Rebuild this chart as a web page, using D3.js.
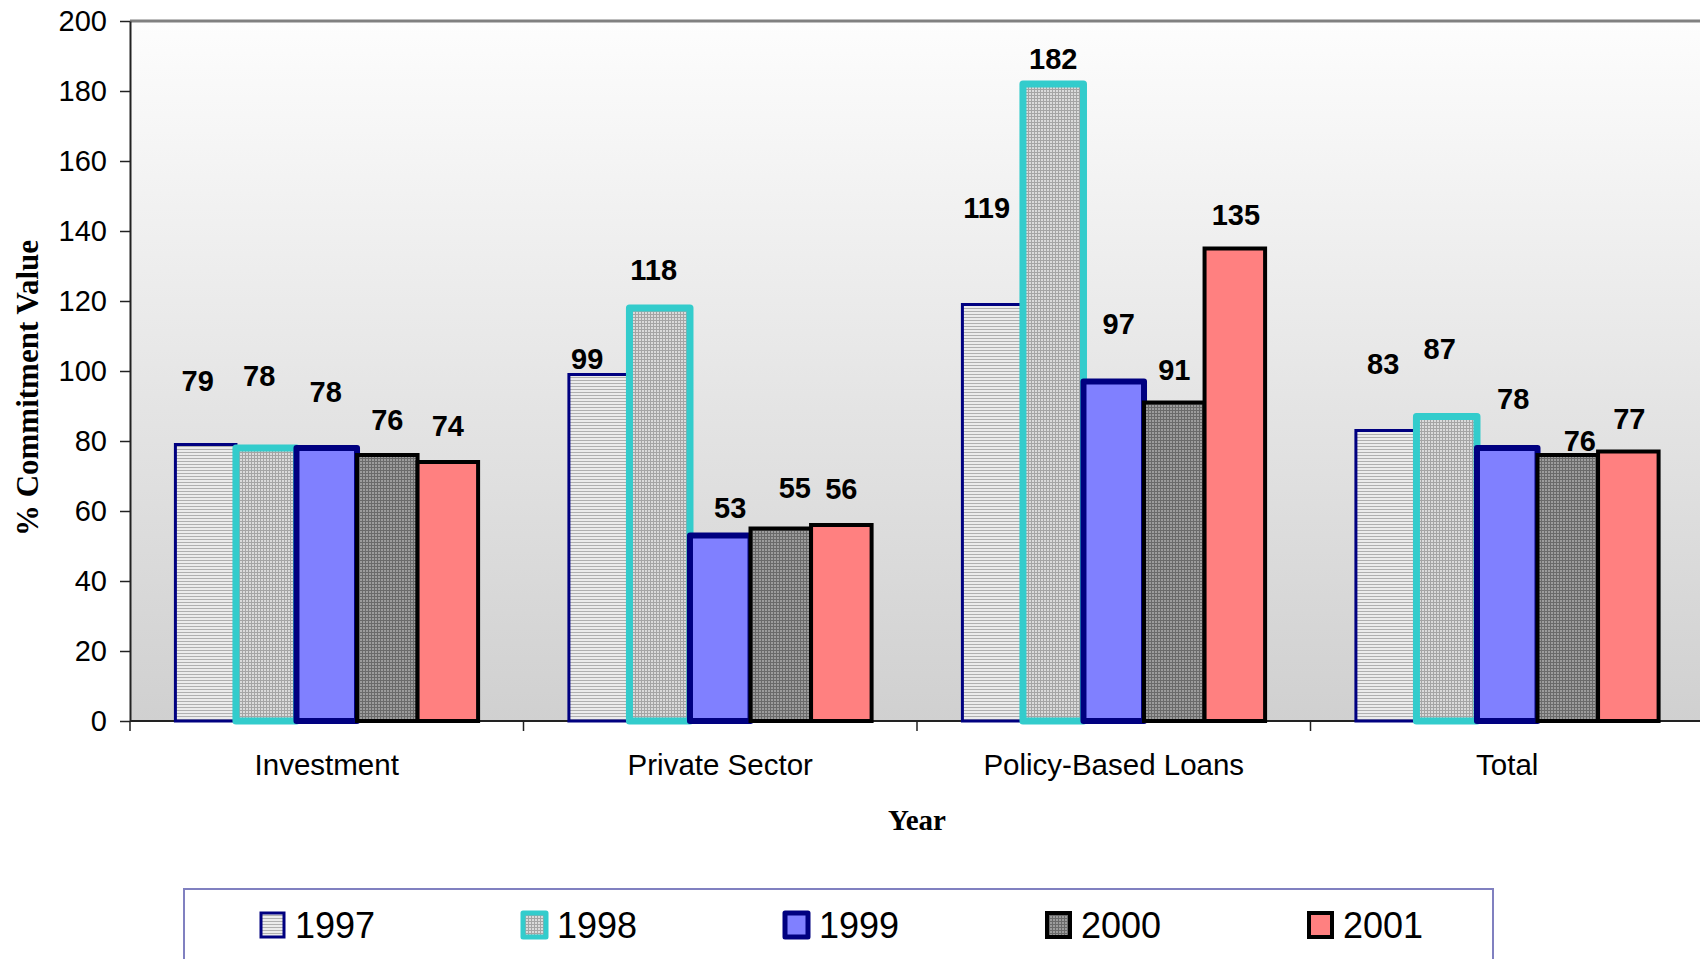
<!DOCTYPE html>
<html>
<head>
<meta charset="utf-8">
<script src="https://cdn.jsdelivr.net/npm/d3@7"></script>
<style>
  body { margin: 0; background: #fff; }
  svg { display: block; }
</style>
</head>
<body>
<div id="chart"></div>
<script>
// Chart data
const categories = ["Investment", "Private Sector", "Policy-Based Loans", "Total"];
const years = ["1997", "1998", "1999", "2000", "2001"];
const values1997 = [79, 99, 119, 83];
const values1998 = [78, 118, 182, 87];
const values1999 = [78, 53, 97, 78];
const values2000 = [76, 55, 91, 76];
const values2001 = [74, 56, 135, 77];
const yTicks = [0, 20, 40, 60, 80, 100, 120, 140, 160, 180, 200];

// label nudges (dx, dy from bar top) - the labels were hand-moved in the original
const labelNudge = {
    "1997": [[-8, -64], [-12, -16], [-6, -97], [-3, -67]],
    "1998": [[-7, -72], [-6, -38], [0, -25], [-7, -68]],
    "1999": [[-1, -56], [10, -28], [5, -58], [6, -49]],
    "2000": [[0, -35], [14, -41], [0, -33], [12, -14]],
    "2001": [[0, -36], [0, -36], [1, -34], [1, -33]]
};

const series = [values1997, values1998, values1999, values2000, values2001];

const width = 1700, height = 959;
const margin = { top: 21, left: 130, bottom: 238 };
const plotRight = 1704;

// bar styles per year
const styles = {
    "1997": { fill: "url(#p1997)", stroke: "#000080", sw: 3 },
    "1998": { fill: "url(#p1998)", stroke: "#33cccc", sw: 7 },
    "1999": { fill: "#8080ff", stroke: "#000080", sw: 6 },
    "2000": { fill: "url(#p2000)", stroke: "#000000", sw: 4 },
    "2001": { fill: "#ff8080", stroke: "#000000", sw: 4 }
};

const svg = d3.select("#chart")
    .append("svg")
    .attr("width", width)
    .attr("height", height)
    .style("background", "#fff");

const defs = svg.append("defs");

// background gradient
const grad = defs.append("linearGradient")
    .attr("id", "bg")
    .attr("x1", 0).attr("y1", 0).attr("x2", 0).attr("y2", 1);
grad.append("stop").attr("offset", "0%").attr("stop-color", "#fdfdfd");
grad.append("stop").attr("offset", "100%").attr("stop-color", "#d0d0d0");

// fill patterns
const p97 = defs.append("pattern").attr("id", "p1997")
    .attr("patternUnits", "userSpaceOnUse").attr("width", 4).attr("height", 3);
p97.append("rect").attr("width", 4).attr("height", 3).attr("fill", "#ececec");
p97.append("rect").attr("y", 2).attr("width", 4).attr("height", 1).attr("fill", "#b0b0b0");

const p98 = defs.append("pattern").attr("id", "p1998")
    .attr("patternUnits", "userSpaceOnUse").attr("width", 3).attr("height", 3);
p98.append("rect").attr("width", 3).attr("height", 3).attr("fill", "#a4a4a4");
p98.append("rect").attr("width", 2).attr("height", 2).attr("fill", "#dadada");

const p00 = defs.append("pattern").attr("id", "p2000")
    .attr("patternUnits", "userSpaceOnUse").attr("width", 3).attr("height", 3);
p00.append("rect").attr("width", 3).attr("height", 3).attr("fill", "#6a6a6a");
p00.append("rect").attr("width", 2).attr("height", 2).attr("fill", "#9c9c9c");

// scales
const x0 = d3.scaleBand()
    .domain(categories)
    .range([margin.left, plotRight])
    .padding(0);

const x1 = d3.scaleBand()
    .domain(years)
    .range([0, x0.bandwidth()])
    .paddingInner(0)
    .paddingOuter(0.75);

const yScale = d3.scaleLinear()
    .domain([0, 200])
    .range([height - margin.bottom, margin.top]);

// plot area
svg.append("rect")
    .attr("x", margin.left)
    .attr("y", margin.top)
    .attr("width", plotRight - margin.left)
    .attr("height", yScale(0) - margin.top)
    .attr("fill", "url(#bg)");

svg.append("line")
    .attr("x1", margin.left).attr("x2", width)
    .attr("y1", margin.top).attr("y2", margin.top)
    .attr("stroke", "#808080")
    .attr("stroke-width", 3);

// y axis
const yAxis = svg.append("g")
    .attr("transform", `translate(${margin.left},0)`)
    .call(d3.axisLeft(yScale).tickValues(yTicks).tickSize(10).tickSizeOuter(0).tickPadding(13));
yAxis.select(".domain").attr("stroke", "#222").attr("stroke-width", 2);
yAxis.selectAll(".tick line").attr("stroke", "#222").attr("stroke-width", 1.5);
yAxis.selectAll(".tick text")
    .style("font-family", "'Liberation Sans', Arial, sans-serif")
    .style("font-size", "29px")
    .attr("fill", "#000");

// x axis (ticks at category boundaries)
const xAxisG = svg.append("g")
    .attr("transform", `translate(0,${yScale(0)})`);
xAxisG.append("line")
    .attr("x1", margin.left).attr("x2", width)
    .attr("stroke", "#222").attr("stroke-width", 2);
xAxisG.selectAll(".bound")
    .data(categories)
    .enter()
    .append("line")
    .attr("x1", d => x0(d)).attr("x2", d => x0(d))
    .attr("y1", 0).attr("y2", 10)
    .attr("stroke", "#222").attr("stroke-width", 1.5);
xAxisG.selectAll(".cat")
    .data(categories)
    .enter()
    .append("text")
    .attr("x", d => x0(d) + x0.bandwidth() / 2)
    .attr("y", 54)
    .attr("text-anchor", "middle")
    .style("font-family", "'Liberation Sans', Arial, sans-serif")
    .style("font-size", "29.5px")
    .text(d => d);

// bars
years.forEach(function(yr, j) {
    const st = styles[yr];
    const g = svg.append("g");
    g.selectAll("rect")
        .data(series[j])
        .enter()
        .append("rect")
        .attr("x", (d, i) => x0(categories[i]) + x1(yr))
        .attr("y", d => yScale(d))
        .attr("width", x1.bandwidth())
        .attr("height", d => yScale(0) - yScale(d))
        .attr("fill", st.fill)
        .attr("stroke", st.stroke)
        .attr("stroke-width", st.sw)
        .attr("stroke-linejoin", st.sw > 5 ? "round" : "miter");
});

// value labels
years.forEach(function(yr, j) {
    svg.append("g").selectAll("text")
        .data(series[j])
        .enter()
        .append("text")
        .attr("x", (d, i) => x0(categories[i]) + x1(yr) + x1.bandwidth() / 2 + labelNudge[yr][i][0])
        .attr("y", (d, i) => yScale(d) + labelNudge[yr][i][1] + 10)
        .attr("text-anchor", "middle")
        .style("font-family", "'Liberation Sans', Arial, sans-serif")
        .style("font-size", "29px")
        .style("font-weight", "bold")
        .text(d => d);
});

// axis titles
svg.append("text")
    .attr("transform", "translate(38,388) rotate(-90)")
    .attr("text-anchor", "middle")
    .style("font-family", "'Liberation Serif', 'Times New Roman', serif")
    .style("font-size", "31px")
    .style("font-weight", "bold")
    .text("% Commitment Value");

svg.append("text")
    .attr("x", 917)
    .attr("y", 830)
    .attr("text-anchor", "middle")
    .style("font-family", "'Liberation Serif', 'Times New Roman', serif")
    .style("font-size", "29px")
    .style("font-weight", "bold")
    .text("Year");

// legend
svg.append("rect")
    .attr("x", 184)
    .attr("y", 889)
    .attr("width", 1309)
    .attr("height", 120)
    .attr("fill", "#fff")
    .attr("stroke", "#8080c0")
    .attr("stroke-width", 2);

const legend = svg.append("g")
    .selectAll("g")
    .data(years)
    .enter()
    .append("g")
    .attr("transform", (d, i) => `translate(${261 + i * 262},913)`);

legend.append("rect")
    .attr("width", 23)
    .attr("height", 24)
    .attr("fill", d => styles[d].fill)
    .attr("stroke", d => styles[d].stroke)
    .attr("stroke-width", d => Math.min(styles[d].sw, 5))
    .attr("stroke-linejoin", d => styles[d].sw > 5 ? "round" : "miter");

legend.append("text")
    .attr("x", 34)
    .attr("y", 25)
    .style("font-family", "'Liberation Sans', Arial, sans-serif")
    .style("font-size", "36px")
    .text(d => d);
</script>
</body>
</html>
